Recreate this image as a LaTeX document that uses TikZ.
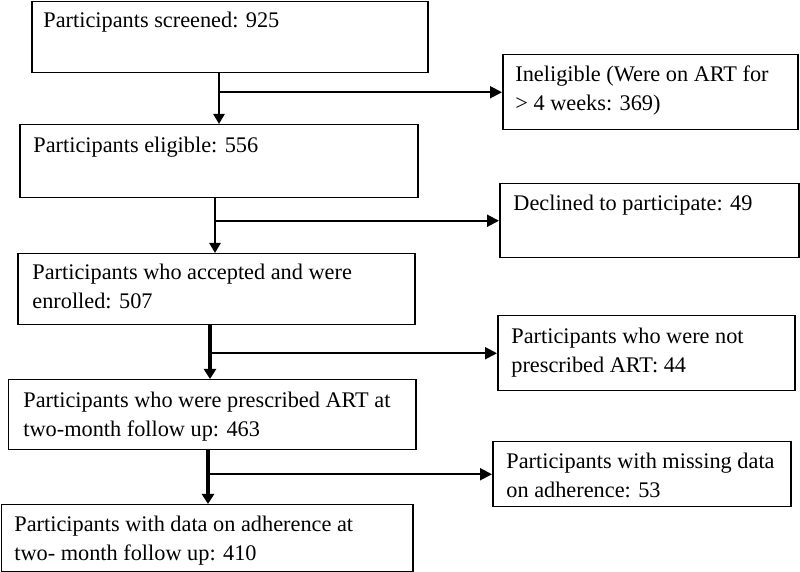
\documentclass[tikz,border=0pt]{standalone}
\usepackage{fontspec}
\setmainfont{Liberation Serif}
\usetikzlibrary{arrows.meta}
\begin{document}
\begin{tikzpicture}[x=0.5pt,y=-0.5pt,
  box/.style 2 args={draw, line width=0.75pt, anchor=north west, inner sep=0pt,
    minimum width=#1, minimum height=#2},
  txt/.style={anchor=base west, inner sep=0pt, align=left,
    font=\fontsize{11.15}{14.5}\selectfont},
  arr/.style={line width=1.2pt, -{Triangle[length=5pt,width=5.5pt]}},
  arrb/.style={line width=2pt, -{Triangle[length=5pt,width=6pt]}},
  br/.style={line width=1pt, -{Triangle[length=6pt,width=6pt]}}]
\useasboundingbox (0,0) rectangle (800,572);
% main boxes
\node[box={198pt}{35.5pt}]   (B1) at (31,1) {};
\node[box={199pt}{36.5pt}]   (B2) at (19,124) {};
\node[box={198.5pt}{35.5pt}] (B3) at (17,253) {};
\node[box={203.5pt}{35pt}]   (B4) at (8,379) {};
\node[box={205.5pt}{33.5pt}] (B5) at (1,504) {};
% exclusion boxes
\node[box={147.5pt}{37.5pt}] (E1) at (502,54) {};
\node[box={149.5pt}{37pt}]   (E2) at (499,183) {};
\node[box={148.5pt}{37.5pt}] (E3) at (497,315) {};
\node[box={149pt}{32.5pt}]   (E4) at (492,441) {};
% texts
\node[txt] (t1) at (43,28) {Participants screened: 925};
\node[txt] (t2) at (33,153) {Participants eligible: 556};
\node[txt] (t3) at (32,309) {Participants who accepted and were\\enrolled: 507};
\node[txt] (t4) at (23,437) {Participants who were prescribed ART at\\two-month follow up: 463};
\node[txt] (t5) at (14,561) {Participants with data on adherence at\\two- month follow up: 410};
\node[txt] (s1) at (515,111) {Ineligible (Were on ART for\\> 4 weeks: 369)};
\node[txt] (s2) at (513,211) {Declined to participate: 49};
\node[txt] (s3) at (511,373) {Participants who were not\\prescribed ART: 44};
\node[txt] (s4) at (506,498) {Participants with missing data\\on adherence: 53};
% connector columns
\coordinate (v1) at (219,0);
\coordinate (v2) at (215,0);
\coordinate (v3) at (210,0);
\coordinate (v4) at (208,0);
\draw[arr]  (v1 |- B1.south) -- (v1 |- B2.north);
\draw[br]   (v1 |- E1.west) -- (E1.west);
\draw[arr]  (v2 |- B2.south) -- (v2 |- B3.north);
\draw[br]   (v2 |- E2.west) -- (E2.west);
\draw[arrb] (v3 |- B3.south) -- (v3 |- B4.north);
\draw[br]   (v3 |- E3.west) -- (E3.west);
\draw[arrb] (v4 |- B4.south) -- (v4 |- B5.north);
\draw[br]   (v4 |- E4.west) -- (E4.west);
\end{tikzpicture}
\end{document}
